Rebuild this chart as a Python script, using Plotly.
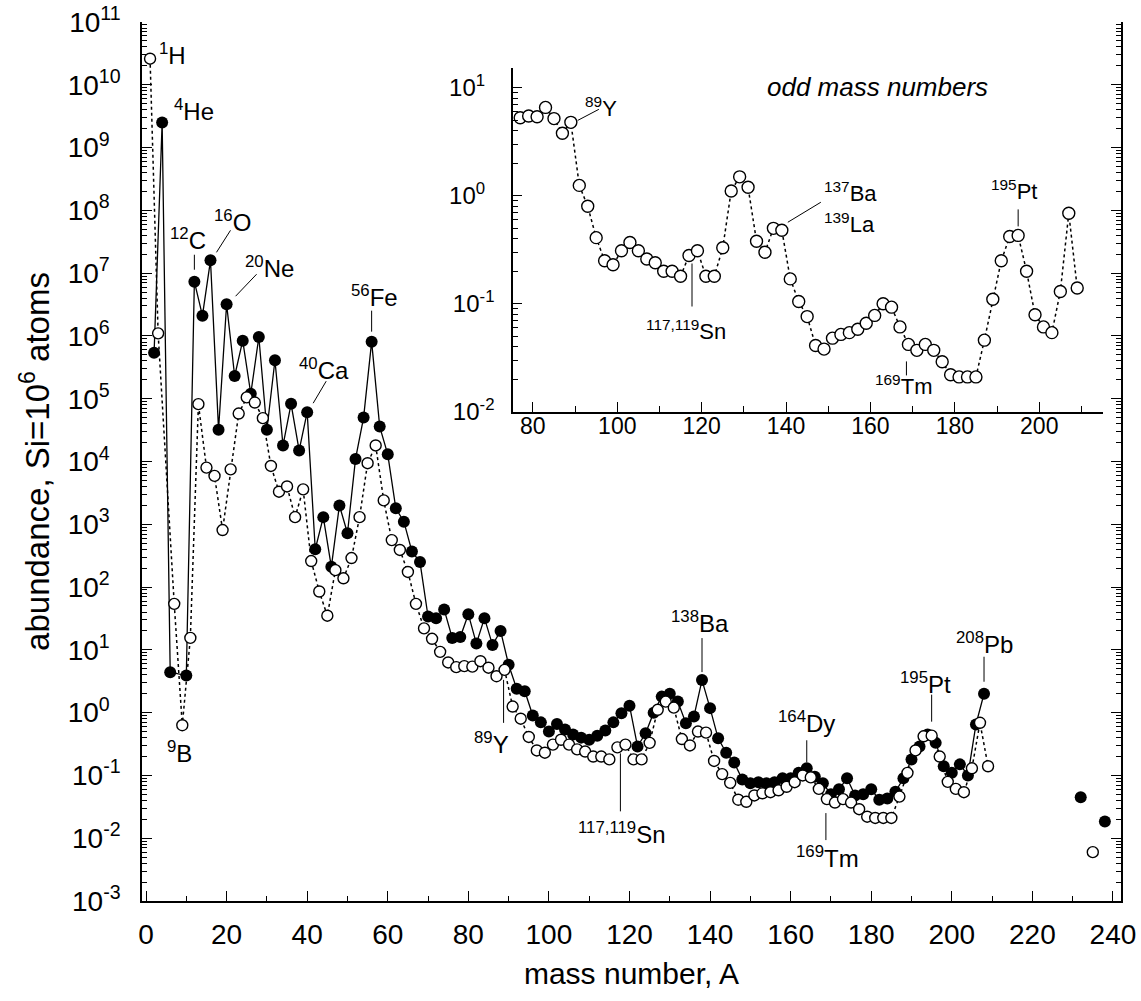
import math
import plotly.graph_objects as go

# ---------------- data (abundance relative to Si = 1e6 atoms) ----------------
even_A = [2, 4, 6, 10, 12, 14, 16, 18, 20, 22, 24, 26, 28, 30, 32, 34, 36, 38, 40,
          42, 44, 46, 48, 50, 52, 54, 56, 58, 60, 62, 64, 66, 68, 70, 72, 74, 76, 78,
          80, 82, 84, 86, 88, 90, 92, 94, 96, 98, 100, 102, 104, 106, 108, 110, 112,
          114, 116, 118, 120, 122, 124, 126, 128, 130, 132, 134, 136, 138, 140, 142,
          144, 146, 148, 150, 152, 154, 156, 158, 160, 162, 164, 166, 168, 170, 172,
          174, 176, 178, 180, 182, 184, 186, 188, 190, 192, 194, 196, 198, 200, 202,
          204, 206, 208]
even_abund = [5.4e5, 2.5e9, 4.4, 3.9, 7.3e6, 2.1e6, 1.6e7, 3.2e4, 3.2e6, 2.3e5,
              8.4e5, 1.2e5, 9.6e5, 3.2e4, 4.1e5, 1.8e4, 8.3e4, 1.5e4, 6.1e4,
              400, 1300, 210, 2000, 720, 1.1e4, 5.0e4, 8.1e5, 3.6e4, 1.3e4, 1800,
              1100, 370, 250, 34, 32, 44, 15.5, 16, 37, 12.6, 32, 12, 20, 5.8, 2.4,
              2.2, 0.9, 0.70, 0.50, 0.66, 0.54, 0.45, 0.40, 0.37, 0.43, 0.52, 0.70,
              0.98, 1.29, 0.29, 0.47, 1.0, 1.8, 2.0, 1.5, 0.68, 0.87, 3.3, 1.18, 0.39,
              0.23, 0.16, 0.086, 0.075, 0.078, 0.075, 0.078, 0.09, 0.09, 0.11, 0.13,
              0.095, 0.075, 0.05, 0.06, 0.09, 0.048, 0.05, 0.06, 0.041, 0.043, 0.055,
              0.09, 0.18, 0.29, 0.45, 0.33, 0.14, 0.11, 0.15, 0.10, 0.65, 2.0]

odd_A = [1, 3, 7, 9, 11, 13, 15, 17, 19, 21, 23, 25, 27, 29, 31, 33, 35, 37, 39, 41,
         43, 45, 47, 49, 51, 53, 55, 57, 59, 61, 63, 65, 67, 69, 71, 73, 75, 77, 79,
         81, 83, 85, 87, 89, 91, 93, 95, 97, 99, 101, 103, 105, 107, 109, 111, 113,
         115, 117, 119, 121, 123, 125, 127, 129, 131, 133, 135, 137, 139, 141, 143,
         145, 147, 149, 151, 153, 155, 157, 159, 161, 163, 165, 167, 169, 171, 173,
         175, 177, 179, 181, 183, 185, 187, 189, 191, 193, 195, 197, 199, 201, 203,
         205, 207, 209]
odd_abund = [2.6e10, 1.1e6, 54, 0.63, 15.5, 8.2e4, 8.0e3, 5.9e3, 810, 7.5e3, 5.8e4,
             1.05e5, 8.7e4, 4.9e4, 8.5e3, 3.3e3, 4.0e3, 1.3e3, 3.6e3, 260, 85, 35,
             186, 138, 290, 1300, 9.4e3, 1.8e4, 2.4e3, 560, 390, 174, 54, 22, 15,
             9.3, 6.3, 5.3, 5.5, 5.4, 6.6, 5.2, 3.8, 4.8, 1.25, 0.80, 0.41, 0.25,
             0.23, 0.31, 0.37, 0.31, 0.26, 0.24, 0.20, 0.20, 0.18, 0.28, 0.31, 0.18,
             0.18, 0.33, 1.11, 1.5, 1.2, 0.38, 0.30, 0.50, 0.48, 0.17, 0.105, 0.076,
             0.041, 0.038, 0.048, 0.052, 0.054, 0.058, 0.066, 0.078, 0.10, 0.093,
             0.061, 0.042, 0.037, 0.042, 0.037, 0.029, 0.022, 0.021, 0.021, 0.021,
             0.046, 0.11, 0.25, 0.42, 0.43, 0.20, 0.079, 0.061, 0.054, 0.13, 0.69,
             0.14]

actinide_even_A = [232, 238]
actinide_even_abund = [0.045, 0.0185]
actinide_odd_A = [235]
actinide_odd_abund = [0.006]

inset_min_A = 77

main_x_ticks = [0, 20, 40, 60, 80, 100, 120, 140, 160, 180, 200, 220, 240]
main_y_exponents = list(range(-3, 12))
inset_x_ticks = [80, 100, 120, 140, 160, 180, 200]
inset_y_exponents = [-2, -1, 0, 1]

# ---------------- layout geometry ----------------
W, H = 1141, 1001
ML, MR, MT, MB = 142, 20, 22, 100
PW, PH = W - ML - MR, H - MT - MB
X_RANGE = [-1, 242]
Y_RANGE = [-3, 11]
X2_DOM = [0.379, 0.982]
Y2_DOM = [0.5567, 0.9477]
X2_RANGE = [75.3, 215.2]
Y2_RANGE = [-2, 1.185]

scales = {
    "": (PW / (X_RANGE[1] - X_RANGE[0]), PH / (Y_RANGE[1] - Y_RANGE[0])),
    "2": (PW * (X2_DOM[1] - X2_DOM[0]) / (X2_RANGE[1] - X2_RANGE[0]),
          PH * (Y2_DOM[1] - Y2_DOM[0]) / (Y2_RANGE[1] - Y2_RANGE[0])),
}

# ---------------- helpers ----------------
FONT = "Arial, 'Liberation Sans', sans-serif"
even_map = dict(zip(even_A, even_abund))
odd_map = dict(zip(odd_A, odd_abund))


def value_of(A):
    return even_map.get(A, odd_map.get(A))


def exp_text(k):
    s = str(k)
    if len(s) == 1:
        s = s + "\u2007"
    return "10<sup>" + s + "</sup>"


def minor_vals(lo, hi):
    out = []
    for k in range(lo, hi):
        for m in range(2, 10):
            out.append(m * 10 ** k)
    return out


inset_A = [a for a in odd_A if a >= inset_min_A]
inset_v = [odd_map[a] for a in inset_A]

fig = go.Figure()

fig.add_trace(go.Scatter(
    x=even_A, y=even_abund, mode="lines+markers",
    line=dict(color="black", width=1.3),
    marker=dict(symbol="circle", size=12, color="black", line=dict(width=0)),
    showlegend=False, xaxis="x", yaxis="y"))
fig.add_trace(go.Scatter(
    x=odd_A, y=odd_abund, mode="lines+markers",
    line=dict(color="black", width=1.5, dash="dot"),
    marker=dict(symbol="circle", size=11, color="white",
                line=dict(color="black", width=1.4)),
    showlegend=False, xaxis="x", yaxis="y"))
fig.add_trace(go.Scatter(
    x=actinide_even_A, y=actinide_even_abund, mode="markers",
    marker=dict(symbol="circle", size=12, color="black", line=dict(width=0)),
    showlegend=False, xaxis="x", yaxis="y"))
fig.add_trace(go.Scatter(
    x=actinide_odd_A, y=actinide_odd_abund, mode="markers",
    marker=dict(symbol="circle", size=11, color="white",
                line=dict(color="black", width=1.4)),
    showlegend=False, xaxis="x", yaxis="y"))
fig.add_trace(go.Scatter(
    x=inset_A, y=inset_v, mode="lines+markers",
    line=dict(color="black", width=1.5, dash="dot"),
    marker=dict(symbol="circle", size=12, color="white",
                line=dict(color="black", width=1.4)),
    showlegend=False, xaxis="x2", yaxis="y2"))

# ---------------- labels ----------------
# (axis suffix, A, text, xanchor, xshift, yshift, leader offsets in px (dx0,dy0,dx1,dy1), size)
labels = [
    ("", 1, "<sup>1</sup>H", "left", 7, 5, None, 24),
    ("", 4, "<sup>4</sup>He", "left", 10, 13, None, 24),
    ("", 9, "<sup>9</sup>B", "center", -3, -27, None, 24),
    ("", 12, "<sup>12</sup>C", "center", -6, 43, (0, 12, 0, 27), 24),
    ("", 16, "<sup>16</sup>O", "center", 22, 39, (6, 8, 20, 30), 24),
    ("", 20, "<sup>20</sup>Ne", "center", 43, 37, (9, 8, 30, 30), 24),
    ("", 56, "<sup>56</sup>Fe", "center", 3, 46, (0, 10, 0, 31), 24),
    ("", 40, "<sup>40</sup>Ca", "center", 17, 43, (6, 9, 19, 31), 24),
    ("", 89, "<sup>89</sup>Y", "center", -13, -73, (-1, -10, -1, -53), 24),
    ("", 117, "<sup>117,119</sup>Sn", "center", 5, -86, (3, -6, 3, -64), 24),
    ("", 138, "<sup>138</sup>Ba", "center", -2, 58, (0, 8, 0, 42), 24),
    ("", 164, "<sup>164</sup>Dy", "center", 0, 46, (0, 6, 0, 28), 24),
    ("", 169, "<sup>169</sup>Tm", "center", 1, -58, (-1, -14, -1, -41), 24),
    ("", 195, "<sup>195</sup>Pt", "center", -6, 53, (0, 14, 0, 41), 24),
    ("", 208, "<sup>208</sup>Pb", "center", 0, 51, (0, 12, 0, 37), 24),
    ("2", 89, "<sup>89</sup>Y", "center", 30, 15, (7, 2, 28, 13), 22),
    ("2", 117, "<sup>117,119</sup>Sn", "center", -3, -74, (3, -8, 3, -51), 22),
    ("2", 139, "<sup>137</sup>Ba", "left", 40, 38, (6, 8, 39, 28), 22),
    ("2", 139, "<sup>139</sup>La", "left", 40, 7, None, 22),
    ("2", 195, "<sup>195</sup>Pt", "center", -4, 45, (0, 9, 0, 26), 22),
    ("2", 169, "<sup>169</sup>Tm", "center", -5, -41, (-2, -17, -2, -31), 22),
]

annotations = []
shapes = []
for ax_s, A, txt, xa, xs, ys, ln, fs in labels:
    v = value_of(A)
    annotations.append(dict(
        x=A, y=math.log10(v), xref="x" + ax_s, yref="y" + ax_s, text=txt,
        showarrow=False, xanchor=xa, yanchor="middle", xshift=xs, yshift=ys,
        font=dict(family=FONT, size=fs, color="black")))
    if ln is not None:
        pxu, ppd = scales[ax_s]
        shapes.append(dict(
            type="line", xref="x" + ax_s, yref="y" + ax_s, layer="above",
            x0=A + ln[0] / pxu, y0=v * 10 ** (ln[1] / ppd),
            x1=A + ln[2] / pxu, y1=v * 10 ** (ln[3] / ppd),
            line=dict(color="black", width=1)))

annotations.append(dict(
    x=0.751, y=0.926, xref="paper", yref="paper", text="<i>odd mass numbers</i>",
    showarrow=False, xanchor="center", yanchor="middle",
    font=dict(family=FONT, size=26, color="black")))

axis_common = dict(showgrid=False, zeroline=False, showline=True, linecolor="black",
                   linewidth=1.5, ticks="inside", tickcolor="black", tickwidth=1.2)

fig.update_layout(
    width=W, height=H,
    margin=dict(l=ML, r=MR, t=MT, b=MB, autoexpand=False),
    paper_bgcolor="white", plot_bgcolor="white",
    font=dict(family=FONT, color="black"),
    xaxis=dict(**axis_common, domain=[0, 1], range=X_RANGE, anchor="y",
               tickmode="array", tickvals=main_x_ticks, ticklen=10,
               minor=dict(tickmode="array",
                          tickvals=[t + 10 for t in main_x_ticks[:-1]],
                          ticks="inside", ticklen=5, tickcolor="black", tickwidth=1.2),
               tickfont=dict(size=28), ticklabelstandoff=8,
               title=dict(text="mass number, A", font=dict(size=30), standoff=14)),
    yaxis=dict(**axis_common, domain=[0, 1], type="log", range=Y_RANGE, anchor="x",
               mirror="ticks",
               tickmode="array", tickvals=[10 ** k for k in main_y_exponents],
               ticktext=[exp_text(k) for k in main_y_exponents], ticklen=10,
               minor=dict(tickmode="array", tickvals=minor_vals(-3, 11),
                          ticks="inside", ticklen=5, tickcolor="black", tickwidth=1),
               tickfont=dict(size=28), ticklabelstandoff=14,
               title=dict(text="abundance, Si=10<sup>6</sup> atoms",
                          font=dict(size=33), standoff=8)),
    xaxis2=dict(**axis_common, domain=X2_DOM, range=X2_RANGE,
                anchor="y2", tickmode="array", tickvals=inset_x_ticks, ticklen=10,
                minor=dict(tickmode="array",
                           tickvals=[t + 10 for t in inset_x_ticks],
                           ticks="inside", ticklen=6, tickcolor="black", tickwidth=1.2),
                tickfont=dict(size=23), ticklabelstandoff=-7),
    yaxis2=dict(**axis_common, domain=Y2_DOM, type="log",
                range=Y2_RANGE, anchor="x2",
                tickmode="array", tickvals=[10 ** k for k in inset_y_exponents],
                ticktext=[exp_text(k) for k in inset_y_exponents], ticklen=9,
                minor=dict(tickmode="array", tickvals=minor_vals(-2, 2),
                           ticks="inside", ticklen=5, tickcolor="black", tickwidth=1),
                tickfont=dict(size=24), ticklabelstandoff=12),
    annotations=annotations,
    shapes=shapes,
)

fig.write_html("out.html")
